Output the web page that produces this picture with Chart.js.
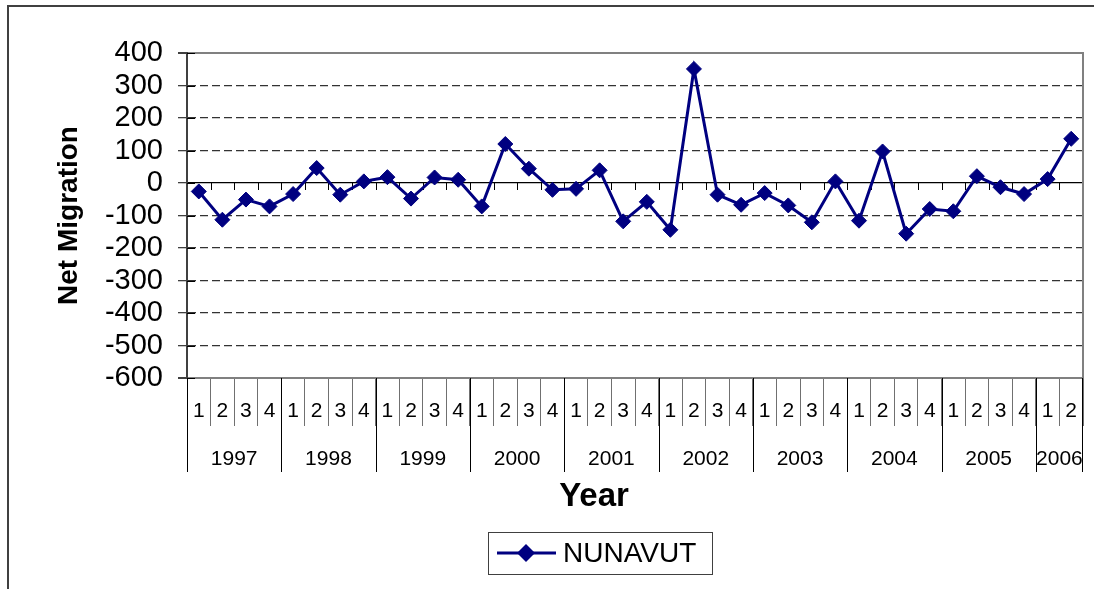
<!DOCTYPE html>
<html>
<head>
<meta charset="utf-8">
<title>Nunavut net migration</title>
<script src="https://cdn.jsdelivr.net/npm/chart.js@4"></script>
<style>
  html, body { margin: 0; padding: 0; background: #fff; }
  #wrap { width: 1094px; height: 589px; position: relative; }
</style>
</head>
<body>
<div id="wrap"><canvas id="chart"></canvas></div>
<script>
// quarterly net migration, Nunavut, 1997 Q1 - 2006 Q2
const quarterLabels = [
  '1','2','3','4', '1','2','3','4', '1','2','3','4', '1','2','3','4', '1','2','3','4',
  '1','2','3','4', '1','2','3','4', '1','2','3','4', '1','2','3','4', '1','2'
];
const yearLabels = ['1997','1998','1999','2000','2001','2002','2003','2004','2005','2006'];
const quartersPerYear = [4, 4, 4, 4, 4, 4, 4, 4, 4, 2];
const netMigration = [
  -26, -113, -51, -72,
  -34, 46, -36, 5,
  18, -48, 17, 10,
  -72, 120, 44, -21,
  -18, 39, -118, -58,
  -144, 351, -36, -67,
  -31, -69, -121, 5,
  -116, 97, -156, -80,
  -87, 21, -13, -34,
  12, 136
];
const yMin = -600, yMax = 400, yStep = 100;

const FONT = "'Liberation Sans', Arial, sans-serif";
const NAVY = '#000080';
Chart.defaults.font.family = FONT;
Chart.defaults.color = '#000';

// frame, year table on the category axis, axis title and legend
const decor = {
  id: 'decor',
  beforeDraw(chart) {
    const { ctx } = chart;
    ctx.save();
    ctx.fillStyle = '#fff';
    ctx.fillRect(0, 0, chart.width, chart.height);
    ctx.strokeStyle = '#404040';
    ctx.lineWidth = 2;
    ctx.beginPath();
    ctx.moveTo(8, chart.height);
    ctx.lineTo(8, 6);
    ctx.lineTo(chart.width, 6);
    ctx.stroke();
    ctx.restore();
  },
  beforeDatasetsDraw(chart) {
    const { ctx, chartArea: a, scales: { x, y } } = chart;
    const half = (x.getPixelForValue(1) - x.getPixelForValue(0)) / 2;
    const y0 = y.getPixelForValue(0);
    ctx.save();
    // right edge of plot area
    ctx.strokeStyle = '#808080';
    ctx.lineWidth = 2;
    ctx.beginPath();
    ctx.moveTo(a.right, a.top - 1);
    ctx.lineTo(a.right, a.bottom + 1);
    ctx.stroke();
    // category tick marks on the zero line
    ctx.strokeStyle = '#000';
    ctx.lineWidth = 1;
    ctx.beginPath();
    for (let i = 1; i < quarterLabels.length; i++) {
      const px = Math.round(x.getPixelForValue(i) - half) + 0.5;
      ctx.moveTo(px, y0);
      ctx.lineTo(px, y0 + 7);
    }
    // inner half of the value-axis tick marks
    for (let v = yMin; v <= yMax; v += yStep) {
      const py = Math.round(y.getPixelForValue(v)) + 0.5;
      ctx.moveTo(a.left, py);
      ctx.lineTo(a.left + 8, py);
    }
    ctx.stroke();
    ctx.restore();
  },
  afterDraw(chart) {
    const { ctx, chartArea: a, scales: { x } } = chart;
    const half = (x.getPixelForValue(1) - x.getPixelForValue(0)) / 2;
    ctx.save();
    // year separators and year labels
    ctx.strokeStyle = '#000';
    ctx.lineWidth = 1;
    ctx.font = '21px ' + FONT;
    ctx.fillStyle = '#000';
    ctx.textAlign = 'center';
    ctx.textBaseline = 'middle';
    let start = 0;
    yearLabels.forEach((yr, k) => {
      const end = start + quartersPerYear[k] - 1;
      const left = x.getPixelForValue(start) - half;
      const right = x.getPixelForValue(end) + half;
      ctx.beginPath();
      ctx.moveTo(Math.round(left) + 0.5, a.bottom);
      ctx.lineTo(Math.round(left) + 0.5, a.bottom + 94);
      if (k === yearLabels.length - 1) {
        ctx.moveTo(Math.round(right) - 0.5, a.bottom);
        ctx.lineTo(Math.round(right) - 0.5, a.bottom + 94);
      }
      ctx.stroke();
      ctx.fillText(yr, (left + right) / 2, a.bottom + 81);
      start = end + 1;
    });
    // axis title
    ctx.font = 'bold 33px ' + FONT;
    ctx.fillText('Year', 594, 497);
    // legend
    const ds = chart.data.datasets[0];
    ctx.strokeStyle = '#404040';
    ctx.strokeRect(488.5, 532.5, 224, 42);
    ctx.strokeStyle = NAVY;
    ctx.lineWidth = 3;
    ctx.beginPath();
    ctx.moveTo(497, 553);
    ctx.lineTo(556, 553);
    ctx.stroke();
    ctx.fillStyle = NAVY;
    ctx.beginPath();
    ctx.moveTo(517, 553);
    ctx.lineTo(526, 544);
    ctx.lineTo(535, 553);
    ctx.lineTo(526, 562);
    ctx.closePath();
    ctx.fill();
    ctx.fillStyle = '#000';
    ctx.textAlign = 'left';
    ctx.font = '28px ' + FONT;
    ctx.fillText(ds.label, 563, 554);
    ctx.restore();
  }
};

new Chart(document.getElementById('chart'), {
  type: 'line',
  data: {
    labels: quarterLabels,
    datasets: [{
      label: 'NUNAVUT',
      data: netMigration,
      borderColor: NAVY,
      borderWidth: 3,
      tension: 0,
      pointStyle: 'rectRot',
      pointRadius: 7.5,
      pointBackgroundColor: NAVY,
      pointBorderColor: NAVY,
      pointBorderWidth: 1
    }]
  },
  options: {
    responsive: true, maintainAspectRatio: false,
    devicePixelRatio: 1,
    animation: false,
    layout: { padding: { left: 0, top: 53, right: 11, bottom: 119 } },
    plugins: { legend: { display: false }, tooltip: { enabled: false } },
    scales: {
      x: {
        type: 'category',
        offset: true,
        afterFit: s => { s.height = 92; },
        grid: {
          offset: true,
          drawOnChartArea: false,
          tickLength: 48,
          color: '#707070',
          tickColor: '#707070'
        },
        border: { display: true, color: '#808080', width: 2 },
        ticks: {
          autoSkip: false, maxRotation: 0, minRotation: 0,
          padding: -27,
          font: { size: 21 }, color: '#000'
        }
      },
      y: {
        min: yMin, max: yMax,
        afterFit: s => { s.width = 187; },
        grid: {
          tickLength: 9,
          tickColor: '#404040',
          color: c => (c.tick && c.tick.value === 0) ? '#000' :
            (c.tick && (c.tick.value === yMax || c.tick.value === yMin)) ? '#808080' : '#333',
          lineWidth: c => (c.tick && (c.tick.value === yMax || c.tick.value === yMin)) ? 2 : 1.3
        },
        border: {
          display: true, color: '#404040', width: 2,
          dash: c => (c.tick && [0, yMax, yMin].includes(c.tick.value)) ? [] : [8, 4]
        },
        ticks: {
          stepSize: yStep, autoSkip: false, padding: 15,
          font: { size: 29, lineHeight: 1 }, color: '#000'
        },
        title: {
          display: true,
          text: 'Net Migration',
          font: { size: 28, weight: 'bold' },
          color: '#000',
          padding: { top: 52, bottom: 0 }
        }
      }
    }
  },
  plugins: [decor]
});
</script>
</body>
</html>
